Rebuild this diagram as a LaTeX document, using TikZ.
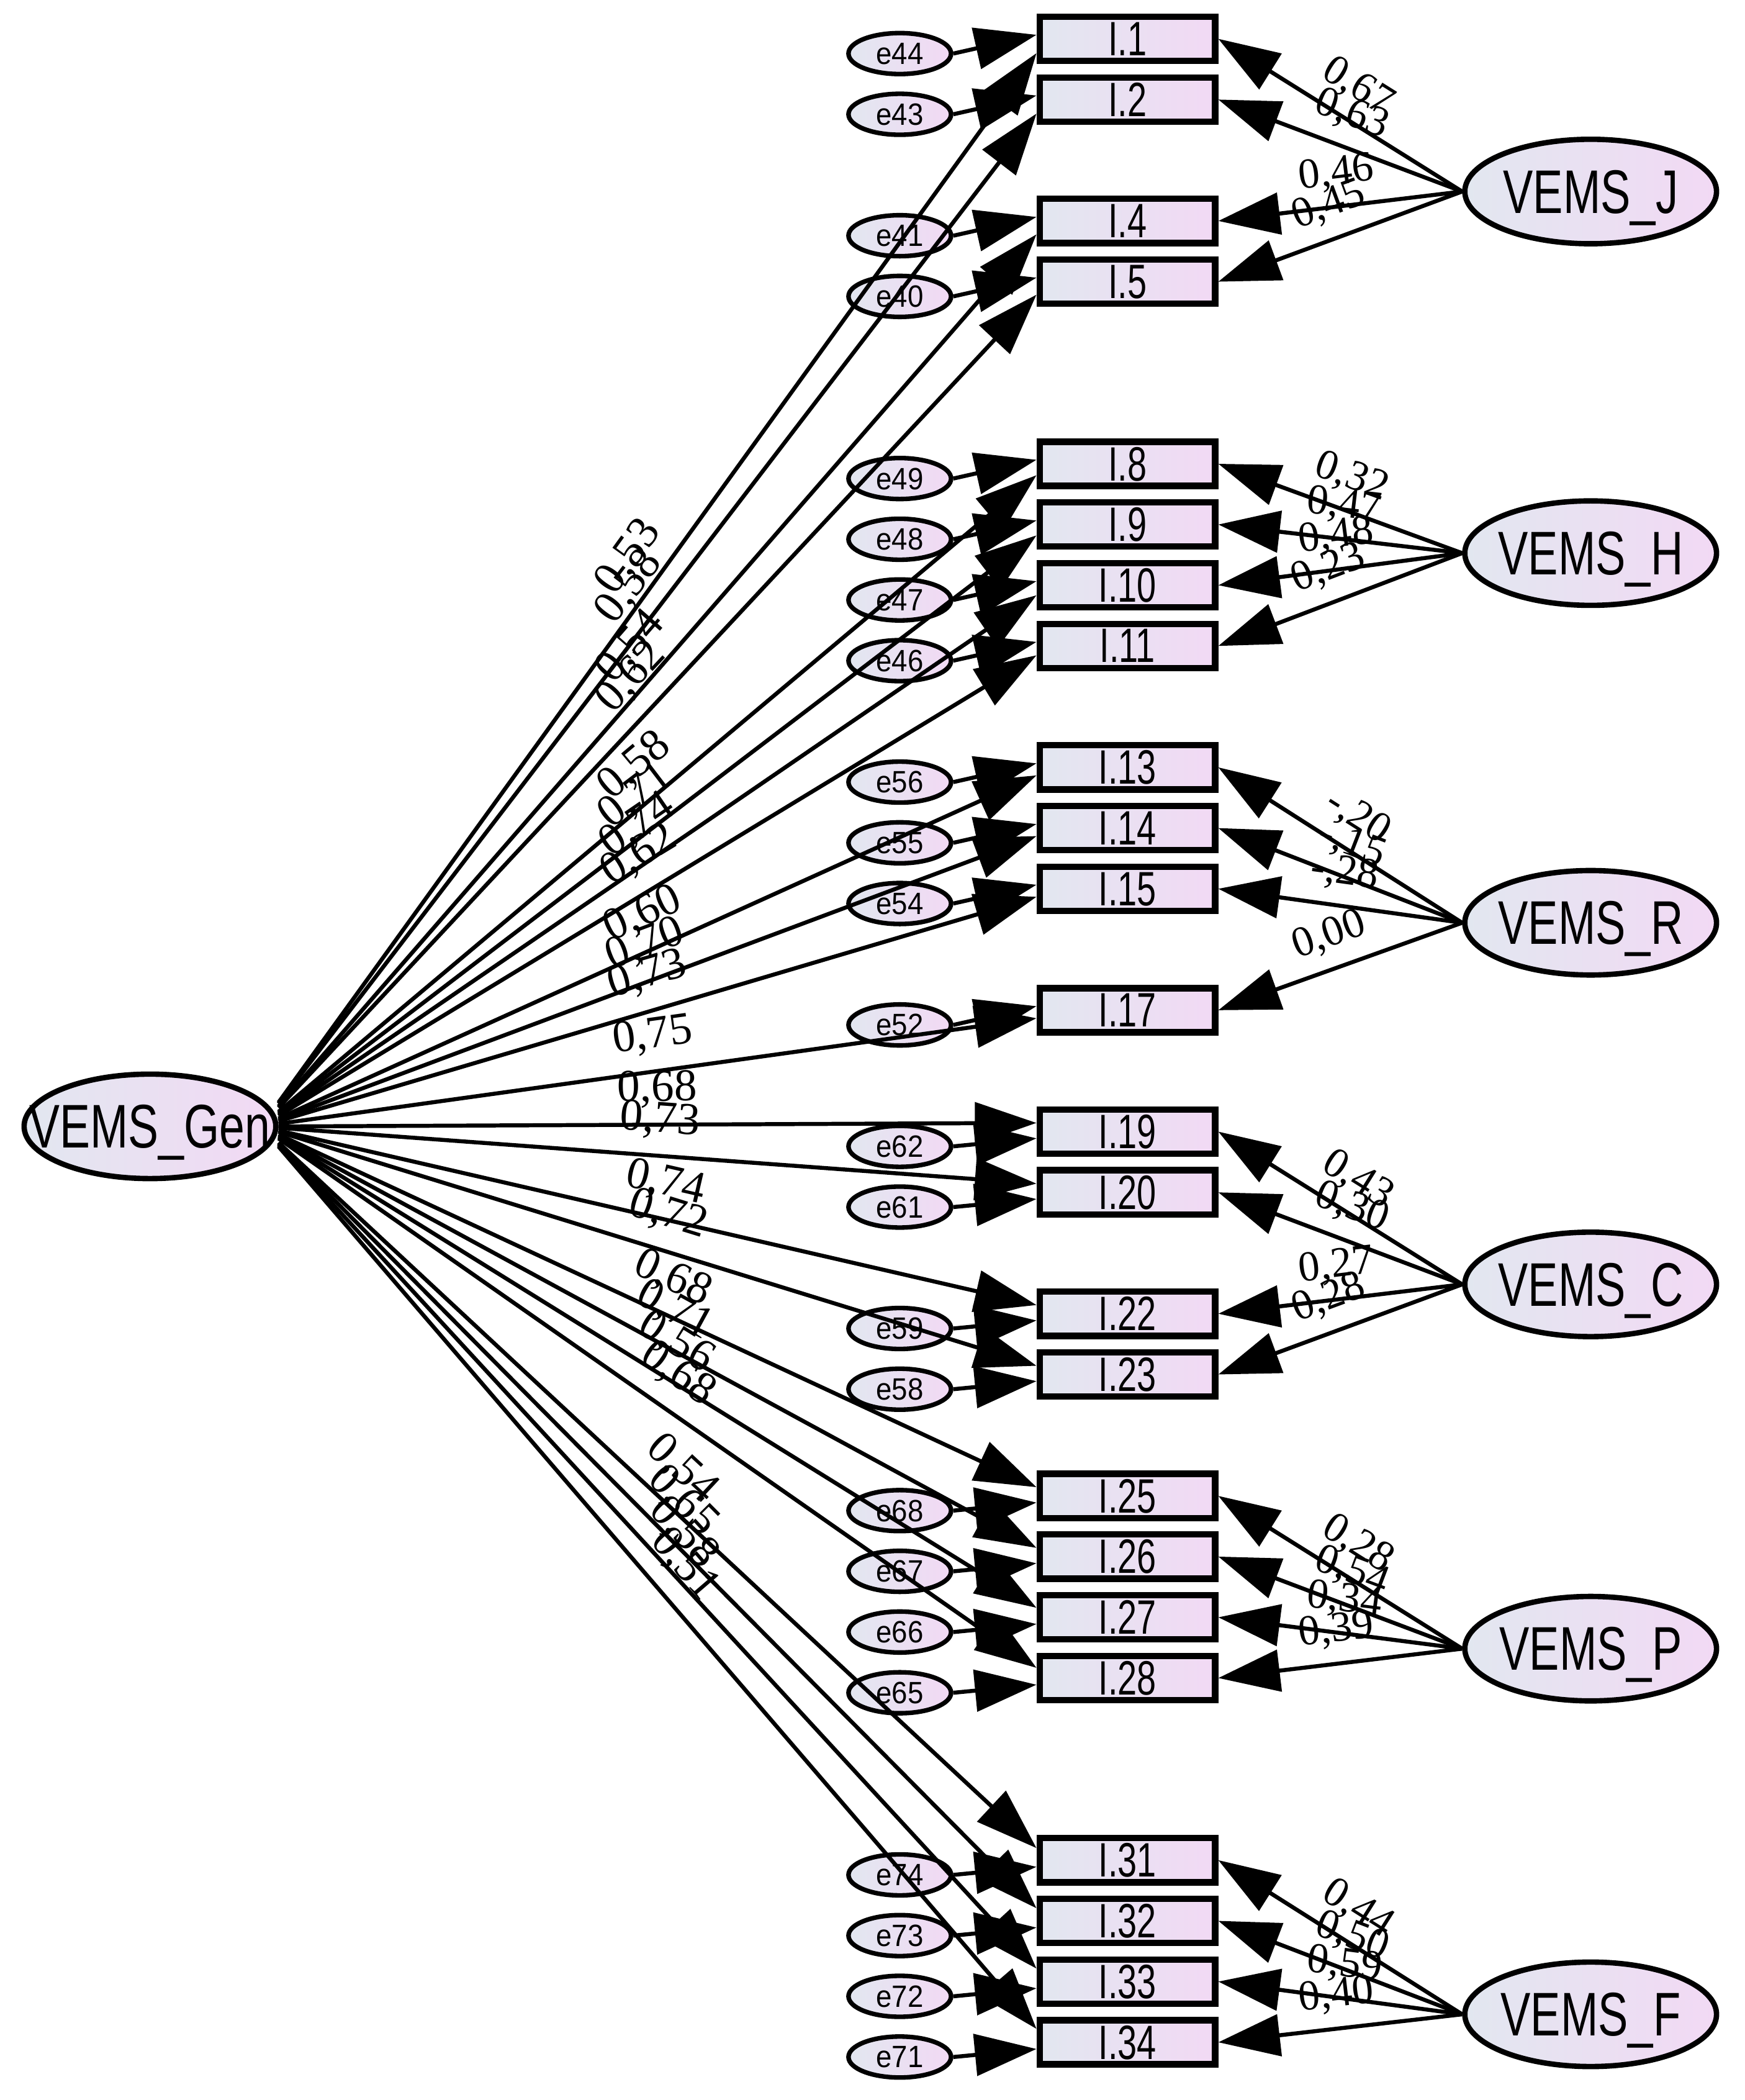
\documentclass[tikz,border=0pt]{standalone}
\usepackage{fontspec}
\setmainfont{Liberation Serif}
\newfontfamily\arialfont{Liberation Sans}
\usetikzlibrary{arrows.meta,shapes.geometric,calc}
\definecolor{shL}{RGB}{226,231,240}
\definecolor{shR}{RGB}{242,217,244}

\newcommand\latfont{\arialfont\fontsize{46}{50}\selectfont}
\newcommand\boxfont{\arialfont\fontsize{36}{40}\selectfont}
\newcommand\errfont{\arialfont\fontsize{23}{25}\selectfont}
\newcommand\coeffont{\fontsize{34}{36}\selectfont}
\newcommand\latcoeffont{\fontsize{32}{34}\selectfont}
\newcommand\sqz[2]{\scalebox{#1}[1]{#2}}

\tikzset{
 latent/.style={ellipse, draw, line width=4pt, minimum width=188pt, minimum height=78pt, inner sep=0pt, text depth=0pt, left color=shL, right color=shR, font=\latfont},
 itembox/.style={rectangle, draw, line width=4.8pt, minimum width=131pt, minimum height=33pt, inner sep=0pt, text depth=0pt, left color=shL, right color=shR, font=\boxfont},
 errell/.style={ellipse, draw, line width=3.4pt, minimum width=76.6pt, minimum height=30.6pt, inner sep=0pt, text depth=0pt, left color=shL, right color=shR, font=\errfont},
 arr/.style={line width=3pt, -{Triangle[length=46pt,width=31pt]}},
 genlab/.style={pos=0.5, sloped, above=11pt, inner sep=0pt, font=\coeffont},
 latlab/.style={pos=0.5, sloped, above=10pt, inner sep=0pt, font=\latcoeffont},
}

% #1 item no, #2 error no, #3 general loading, #4 latent, #5 latent loading,
% #6 downward offset of general arrow end, #7 downward offset of error arrow end
\newcommand\allitems[1]{%
#1{1}{44}{0,53}{J}{0,67}{10.7}{-3}%
#1{2}{43}{0,58}{J}{0,63}{10.5}{-3}%
#1{4}{41}{0,54}{J}{0,46}{10.0}{-3}%
#1{5}{40}{0,62}{J}{0,45}{9.7}{-3}%
#1{8}{49}{0,58}{H}{0,32}{8.5}{-3}%
#1{9}{48}{0,71}{H}{0,47}{8.1}{-3}%
#1{10}{47}{0,74}{H}{0,48}{7.5}{-3}%
#1{11}{46}{0,62}{H}{0,23}{7.0}{-3}%
#1{13}{56}{0,60}{R}{-,20}{6}{-3}%
#1{14}{55}{0,70}{R}{-,15}{6}{-3}%
#1{15}{54}{0,73}{R}{-,28}{6}{-3}%
#1{17}{52}{0,75}{R}{0,00}{6}{-3}%
#1{19}{62}{0,68}{C}{0,43}{-6.5}{5}%
#1{20}{61}{0,73}{C}{0,30}{-6.5}{5}%
#1{22}{59}{0,74}{C}{0,27}{-6.5}{5}%
#1{23}{58}{0,72}{C}{0,28}{-6.5}{5}%
#1{25}{68}{0,68}{P}{0,28}{-6.5}{5}%
#1{26}{67}{0,71}{P}{0,54}{-6.5}{5}%
#1{27}{66}{0,56}{P}{0,34}{-7.1}{5}%
#1{28}{65}{0,68}{P}{0,39}{-7.6}{5}%
#1{31}{74}{0,54}{F}{0,44}{-9}{5}%
#1{32}{73}{0,65}{F}{0,50}{-9.4}{5}%
#1{33}{72}{0,58}{F}{0,59}{-9.7}{5}%
#1{34}{71}{0,51}{F}{0,40}{-10}{5}%
}

\newcommand\mknodes[7]{%
  \node[itembox] (i#1) at (842,{29+(#1-1)*45.33}) {\sqz{0.72}{I.#1}};
  \node[errell] (e#2) at (672,{40+(#1-1)*45.33}) {\makebox[0pt]{\sqz{0.92}{e#2}}};
}
\newcommand\mklines[7]{%
  \draw[arr] (e#2.east) -- ([yshift={-(#7)}]i#1.west);
  \draw[arr] ($(G.east)+(0,{0.022*(29+(#1-1)*45.33-841)})$) -- ([yshift={-(#6)}]i#1.west) node[genlab]{#3};
  \draw[arr] (#4.west) -- (i#1.east) node[latlab]{#5};
}

\begin{document}
\begin{tikzpicture}[x=1pt,y=-1pt]
\useasboundingbox (0,0) rectangle (1303,1568);
\fill[white] (0,0) rectangle (1303,1568);

\node[latent] (G) at (112,841) {\makebox[0pt]{\sqz{0.74}{VEMS\_Gen}}};
\node[latent] (J) at (1188,143) {\makebox[0pt]{\sqz{0.73}{VEMS\_J}}};
\node[latent] (H) at (1188,413) {\makebox[0pt]{\sqz{0.73}{VEMS\_H}}};
\node[latent] (R) at (1188,689) {\makebox[0pt]{\sqz{0.73}{VEMS\_R}}};
\node[latent] (C) at (1188,959) {\makebox[0pt]{\sqz{0.73}{VEMS\_C}}};
\node[latent] (P) at (1188,1231) {\makebox[0pt]{\sqz{0.73}{VEMS\_P}}};
\node[latent] (F) at (1188,1504) {\makebox[0pt]{\sqz{0.73}{VEMS\_F}}};

\allitems\mknodes
\allitems\mklines
\end{tikzpicture}
\end{document}
